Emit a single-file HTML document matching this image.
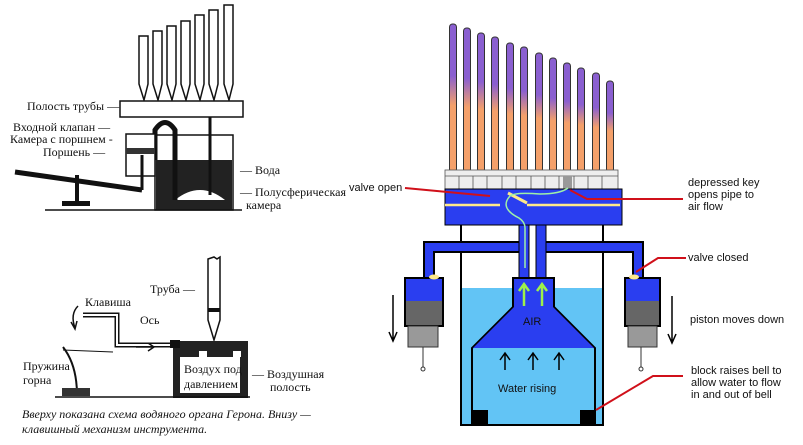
<!DOCTYPE html>
<html><head><meta charset="utf-8"><style>
body{margin:0;background:#fff;width:803px;height:445px;overflow:hidden}
svg{display:block}
.r{font-family:"Liberation Serif",serif;font-size:12px;fill:#111}
.s{font-family:"Liberation Sans",sans-serif;font-size:11px;fill:#111}
</style></head><body>
<svg width="803" height="445" viewBox="0 0 803 445" xmlns="http://www.w3.org/2000/svg">
<defs>
<linearGradient id="pg" x1="0" y1="0" x2="0" y2="1">
<stop offset="0" stop-color="#8a5fd0"/><stop offset="0.35" stop-color="#8a5fd0"/><stop offset="0.55" stop-color="#f4a06a"/><stop offset="1" stop-color="#f4a06a"/></linearGradient>
</defs>
<!-- LEFT TOP -->
<g stroke="#111" stroke-width="1.5" fill="#fff">
<path d="M139,36h9v48l-4,16l-5,-16z"/><path d="M153,31h9v53l-4,16l-5,-16z"/><path d="M167,26h9v58l-4,16l-5,-16z"/><path d="M181,21h9v63l-4,16l-5,-16z"/><path d="M195,15h9v69l-4,16l-5,-16z"/><path d="M209,10h9v74l-4,16l-5,-16z"/><path d="M224,5h9v79l-4,16l-5,-16z"/>
<rect x="120" y="101" width="123" height="16"/>
<rect x="155" y="135" width="78" height="75"/>
</g>
<rect x="156" y="160" width="76" height="50" fill="#222"/>
<path d="M175,200 q25,-20 50,0z" fill="#fff"/>
<path d="M155,160 v-30 q10,-15 20,0 v70" fill="none" stroke="#111" stroke-width="5"/>
<rect x="126" y="134" width="29" height="42" fill="#fff" stroke="#111" stroke-width="1.5"/>
<rect x="126" y="148" width="29" height="6" fill="#333"/>
<line x1="210" y1="117" x2="210" y2="195" stroke="#111" stroke-width="3"/>
<line x1="15" y1="172" x2="142" y2="190" stroke="#111" stroke-width="5"/>
<line x1="77" y1="175" x2="77" y2="203" stroke="#111" stroke-width="4"/>
<rect x="62" y="201" width="28" height="5" fill="#111"/>
<line x1="142" y1="155" x2="142" y2="190" stroke="#111" stroke-width="3"/>
<line x1="45" y1="210" x2="242" y2="210" stroke="#111" stroke-width="1.5"/>
<text class="r" x="27" y="110">Полость трубы —</text>
<text class="r" x="13" y="131">Входной клапан —</text>
<text class="r" x="10" y="143">Камера с поршнем -</text>
<text class="r" x="43" y="156">Поршень —</text>
<text class="r" x="240" y="174">— Вода</text>
<text class="r" x="240" y="196">— Полусферическая</text>
<text class="r" x="246" y="209">камера</text>
<!-- LEFT BOTTOM -->
<path d="M208,259 l6,-2 l3,2 l3,-2 l0,63 l-6,20 l-6,-20 z" fill="#fff" stroke="#111" stroke-width="1.5"/>
<rect x="208" y="308" width="12" height="4" fill="#111"/>
<rect x="173" y="341" width="75" height="57" fill="#222"/>
<rect x="180" y="357" width="60" height="36" fill="#fff"/>
<rect x="199" y="351" width="8" height="6" fill="#fff"/><rect x="233" y="351" width="8" height="6" fill="#fff"/>
<path d="M83,315 h34 v30 h56" fill="none" stroke="#111" stroke-width="5"/>
<path d="M83,315 h34 v30 h56" fill="none" stroke="#fff" stroke-width="2"/>
<rect x="170" y="340" width="10" height="8" fill="#111"/>
<line x1="63" y1="350" x2="113" y2="352" stroke="#111"/>
<path d="M63,347 q14,18 14,48" fill="none" stroke="#111" stroke-width="2"/>
<rect x="62" y="388" width="28" height="8" fill="#333"/>
<line x1="55" y1="397" x2="250" y2="397" stroke="#111" stroke-width="1.5"/>
<path d="M136,347 h17 M148,343 l6,4 l-6,4" fill="none" stroke="#111" stroke-width="1.5"/>
<path d="M78,306 q-8,8 -3,22 M71,322 l4,7 l2,-8" fill="none" stroke="#111" stroke-width="1.5"/>
<text class="r" x="150" y="293">Труба —</text>
<text class="r" x="85" y="306">Клавиша</text>
<text class="r" x="140" y="324">Ось</text>
<text class="r" x="23" y="370">Пружина</text>
<text class="r" x="23" y="384">горна</text>
<text class="r" x="184" y="373">Воздух под</text>
<text class="r" x="184" y="388">давлением</text>
<text class="r" x="252" y="378">— Воздушная</text>
<text class="r" x="270" y="391">полость</text>
<text class="r" x="22" y="418" font-style="italic">Вверху показана схема водяного органа Герона. Внизу —</text>
<text class="r" x="22" y="433" font-style="italic">клавишный механизм инструмента.</text>
<!-- RIGHT -->
<g stroke="#333" stroke-width="1">
<rect x="449.5" y="24" width="7" height="148" rx="3" fill="url(#pg)"/>
<rect x="463.5" y="28" width="7" height="144" rx="3" fill="url(#pg)"/>
<rect x="477.5" y="33" width="7" height="139" rx="3" fill="url(#pg)"/>
<rect x="491.5" y="37" width="7" height="135" rx="3" fill="url(#pg)"/>
<rect x="506.5" y="43" width="7" height="129" rx="3" fill="url(#pg)"/>
<rect x="520.5" y="47" width="7" height="125" rx="3" fill="url(#pg)"/>
<rect x="535.5" y="53" width="7" height="119" rx="3" fill="url(#pg)"/>
<rect x="549.5" y="58" width="7" height="114" rx="3" fill="url(#pg)"/>
<rect x="563.5" y="63" width="7" height="109" rx="3" fill="url(#pg)"/>
<rect x="577.5" y="68" width="7" height="104" rx="3" fill="url(#pg)"/>
<rect x="592.5" y="73" width="7" height="99" rx="3" fill="url(#pg)"/>
<rect x="606.5" y="81" width="7" height="91" rx="3" fill="url(#pg)"/>
</g>
<g fill="#eee" stroke="#555" stroke-width="0.8">
<rect x="445" y="170" width="173" height="19"/>
<path d="M459,176v13M473,176v13M487,176v13M502,176v13M516,176v13M531,176v13M545,176v13M559,176v13M574,176v13M588,176v13M602,176v13M445,176h173"/>
</g>
<rect x="563" y="176" width="9" height="13" fill="#999"/>
<!-- tank -->
<rect x="461" y="288" width="142" height="137" fill="#62c4f5"/>
<path d="M461,225V425H603V225" fill="none" stroke="#000" stroke-width="2"/>
<!-- channels -->
<path d="M429,277V247H520M546,247H638V277" fill="none" stroke="#000" stroke-width="12"/>
<path d="M429,277V247H520M546,247H638V277" fill="none" stroke="#2a3ef0" stroke-width="8"/>
<rect x="519" y="222" width="10" height="58" fill="#2a3ef0" stroke="#000"/>
<rect x="536" y="222" width="10" height="58" fill="#2a3ef0" stroke="#000"/>
<!-- bell -->
<path d="M513,278H554V307L595,348V425H472V348L513,307Z" fill="#62c4f5" stroke="#000" stroke-width="2"/>
<path d="M514,279H553V307L594,348H473L514,307Z" fill="#2a3ef0"/>
<rect x="472" y="410" width="16" height="15" fill="#000"/><rect x="580" y="410" width="16" height="15" fill="#000"/>
<!-- top box -->
<rect x="445" y="189" width="177" height="36" fill="#2a3ef0" stroke="#000"/>
<path d="M445,205H500M527,205H620" stroke="#ffe98a" stroke-width="2.5"/>
<path d="M508,193 L527,203" stroke="#ffe98a" stroke-width="3"/>
<path d="M525,268V228q0,-6 -6,-10q-20,-10 -9,-22q5,-4 30,-2q20,0 28,-6" fill="none" stroke="#9ef0a8" stroke-width="1.5"/>
<!-- pistons -->
<g stroke="#000" stroke-width="2"><rect x="405" y="278" width="38" height="48" fill="#666"/><rect x="625" y="278" width="35" height="48" fill="#666"/></g>
<rect x="406" y="279" width="36" height="22" fill="#2a3ef0"/><rect x="626" y="279" width="33" height="22" fill="#2a3ef0"/>
<rect x="408" y="326" width="30" height="21" fill="#999" stroke="#333"/><rect x="628" y="326" width="29" height="21" fill="#999" stroke="#333"/>
<path d="M423,347v22M641,347v22" stroke="#333"/>
<circle cx="423" cy="369" r="2" fill="#fff" stroke="#333"/><circle cx="641" cy="369" r="2" fill="#fff" stroke="#333"/>
<ellipse cx="434" cy="277" rx="5" ry="2.5" fill="#ffe98a"/><ellipse cx="634" cy="277" rx="5" ry="2.5" fill="#ffe98a"/>
<!-- arrows -->
<g stroke="#000" stroke-width="1.5" fill="none">
<path d="M393,295V341M389,332l4,9l4,-9"/><path d="M672,296V343M668,334l4,9l4,-9"/>
<path d="M505,370V353M500,360l5,-7l5,7"/><path d="M533,370V353M528,360l5,-7l5,7"/><path d="M559,370V353M554,360l5,-7l5,7"/>
</g>
<g stroke="#9ef04a" stroke-width="2.5" fill="none"><path d="M524,306V284M519,291l5,-7l5,7M542,306V284M537,291l5,-7l5,7"/></g>
<text class="s" x="523" y="325">AIR</text>
<text class="s" x="498" y="392">Water rising</text>
<!-- red lines -->
<g stroke="#d0101a" stroke-width="2" fill="none">
<path d="M405,188L490,196"/><path d="M570,190L587,199H683"/><path d="M636,272L658,258H686"/><path d="M596,410L653,376H683"/>
</g>
<text class="s" x="349" y="191">valve open</text>
<text class="s" x="688" y="186">depressed key</text>
<text class="s" x="688" y="198">opens pipe to</text>
<text class="s" x="688" y="210">air flow</text>
<text class="s" x="688" y="261">valve closed</text>
<text class="s" x="690" y="323">piston moves down</text>
<text class="s" x="691" y="374">block raises bell to</text>
<text class="s" x="691" y="386">allow water to flow</text>
<text class="s" x="691" y="398">in and out of bell</text>
</svg>
</body></html>
